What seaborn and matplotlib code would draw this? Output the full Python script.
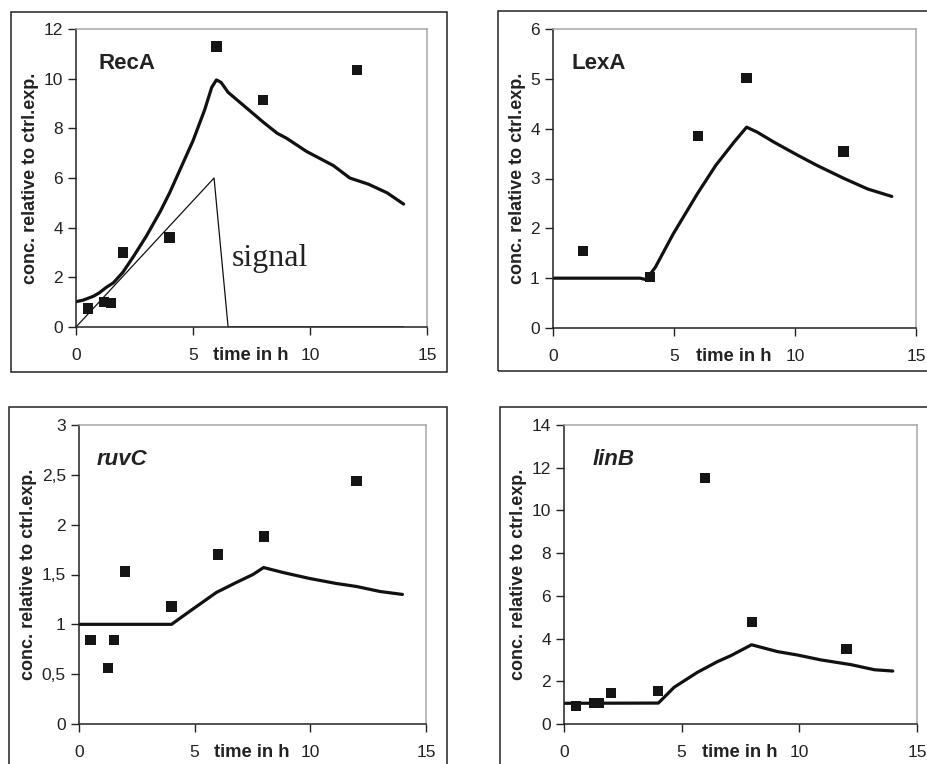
import numpy as np
import pandas as pd
import matplotlib
matplotlib.use('Agg')
import matplotlib.pyplot as plt
import matplotlib.patches as mpatches
import matplotlib.transforms as mtrans
from matplotlib.ticker import FuncFormatter
import seaborn as sns

sns.set_style('white')
plt.rcParams['font.family'] = ['Liberation Sans', 'DejaVu Sans']

# measured points (time in h, relative conc.)
reca_pt_t = [0.5, 1.2, 1.5, 2.0, 4.0, 6.0, 8.0, 12.0]
reca_pt_y = [0.75, 1.02, 0.97, 3.0, 3.6, 11.3, 9.15, 10.35]
lexa_pt_t = [1.25, 4.0, 6.0, 8.0, 12.0]
lexa_pt_y = [1.55, 1.03, 3.85, 5.02, 3.54]
ruvc_pt_t = [0.5, 1.25, 1.5, 2.0, 4.0, 6.0, 8.0, 12.0]
ruvc_pt_y = [0.84, 0.56, 0.84, 1.53, 1.18, 1.70, 1.88, 2.44]
linb_pt_t = [0.5, 1.3, 1.5, 2.0, 4.0, 6.0, 8.0, 12.0]
linb_pt_y = [0.83, 0.98, 0.98, 1.44, 1.56, 11.52, 4.76, 3.51]

# model curves
reca_t = [0, 0.3, 0.75, 1.0, 1.3, 1.6, 2.0, 2.45, 3.0, 3.6, 4.0, 4.5, 5.0, 5.5,
          5.8, 6.0, 6.2, 6.5, 7.0, 8.0, 8.6, 9.0, 9.85, 11.0, 11.7, 12.5, 13.3, 14.0]
reca_y = [1.02, 1.08, 1.24, 1.38, 1.6, 1.78, 2.2, 2.83, 3.65, 4.65, 5.4, 6.45, 7.5,
          8.75, 9.65, 9.95, 9.85, 9.45, 9.05, 8.25, 7.8, 7.6, 7.07, 6.5, 6.0, 5.75, 5.4, 4.95]
signal_t = [0, 5.9, 6.5, 14.0]
signal_y = [0, 6.0, 0, 0]
lexa_t = [0, 3.6, 3.85, 4.23, 4.97, 5.96, 6.72, 7.48, 8.0, 8.44, 9.13, 10.1, 10.92,
          12.03, 13.0, 14.0]
lexa_y = [1.0, 1.0, 0.97, 1.22, 1.89, 2.69, 3.26, 3.73, 4.03, 3.93, 3.73, 3.47, 3.26,
          3.0, 2.79, 2.64]
ruvc_t = [0, 4.0, 4.78, 5.94, 6.8, 7.52, 7.98, 8.82, 9.97, 11.12, 11.99, 13.0, 13.98]
ruvc_y = [1.0, 1.0, 1.13, 1.32, 1.42, 1.5, 1.57, 1.52, 1.46, 1.41, 1.38, 1.33, 1.30]
linb_t = [0, 4.01, 4.68, 5.67, 6.52, 7.09, 7.97, 9.07, 9.92, 10.92, 12.19, 13.19, 13.97]
linb_y = [0.97, 0.98, 1.72, 2.42, 2.92, 3.2, 3.71, 3.39, 3.23, 3.0, 2.78, 2.54, 2.48]

W, H = 928, 764
fig = plt.figure(figsize=(W / 100, H / 100), dpi=100)


def px_axes(x0, y0, x1, y1):
    return fig.add_axes([x0 / W, 1 - y1 / H, (x1 - x0) / W, (y1 - y0) / H])


def frame(x0, y0, x1, y1):
    fig.add_artist(mpatches.Rectangle((x0 / W, 1 - y1 / H), (x1 - x0) / W, (y1 - y0) / H,
                                      transform=fig.transFigure, fill=False,
                                      edgecolor='#222222', linewidth=1.1, clip_on=False))


def panel(ax, pt_t, pt_y, t, y, ymax, ystep, name, italic, name_x, comma=False):
    sns.lineplot(x=t, y=y, ax=ax, color='#111111', linewidth=2.3, sort=False)
    sns.scatterplot(x=pt_t, y=pt_y, ax=ax, marker='s', s=55, color='#151515',
                    edgecolor='none', linewidth=0, zorder=5)
    ax.set_xlim(0, 15)
    ax.set_ylim(0, ymax)
    ax.set_xticks([0, 5, 10, 15])
    ax.set_yticks(np.arange(0, ymax + ystep / 2, ystep))
    if comma:
        ax.yaxis.set_major_formatter(FuncFormatter(lambda v, p: ('%g' % v).replace('.', ',')))
    ax.tick_params(axis='x', direction='out', length=6, width=1, pad=9,
                   labelsize=12.5, colors='#222222', bottom=True)
    ax.tick_params(axis='y', direction='out', length=6, width=1, pad=3.5,
                   labelsize=12.5, colors='#222222', left=True)
    for s in ['left', 'bottom']:
        ax.spines[s].set_color('#222222')
        ax.spines[s].set_linewidth(1.1)
    for s in ['top', 'right']:
        ax.spines[s].set_color('#a8a8a8')
        ax.spines[s].set_linewidth(1.1)
    ax.set_xlabel('')
    ax.set_ylabel('conc. relative to ctrl.exp.', fontsize=13, fontweight='bold',
                  color='#222222', labelpad=3)
    tr = mtrans.blended_transform_factory(ax.transData, ax.transAxes)
    ax.text(7.45, -0.094, 'time in h', transform=tr, ha='center', va='center',
            fontsize=13.3, fontweight='bold', color='#222222')
    ax.text(name_x, 0.883, name, transform=ax.transAxes, ha='left', va='center',
            fontsize=16, fontweight='bold', style='italic' if italic else 'normal',
            color='#222222')


ax1 = px_axes(76, 29, 427, 327)
panel(ax1, reca_pt_t, reca_pt_y, reca_t, reca_y, 12, 2, 'RecA', False, 0.063)
sns.lineplot(x=signal_t, y=signal_y, ax=ax1, color='#111111', linewidth=0.9, sort=False)
ax1.text(6.65, 2.75, 'signal', fontsize=23, va='center', ha='left',
         family=['Liberation Serif', 'DejaVu Serif'], color='#222222')

ax2 = px_axes(553, 29, 916, 328)
panel(ax2, lexa_pt_t, lexa_pt_y, lexa_t, lexa_y, 6, 1, 'LexA', False, 0.052)

ax3 = px_axes(79, 425, 426, 724)
panel(ax3, ruvc_pt_t, ruvc_pt_y, ruvc_t, ruvc_y, 3, 0.5, 'ruvC', True, 0.05, comma=True)

ax4 = px_axes(564, 425, 917, 724)
panel(ax4, linb_pt_t, linb_pt_y, linb_t, linb_y, 14, 2, 'linB', True, 0.08)

frame(11, 12, 447, 372)
frame(498, 11, 940, 371)
frame(9, 407, 447, 780)
frame(500, 407, 940, 780)

fig.savefig('out.png', dpi=100)
